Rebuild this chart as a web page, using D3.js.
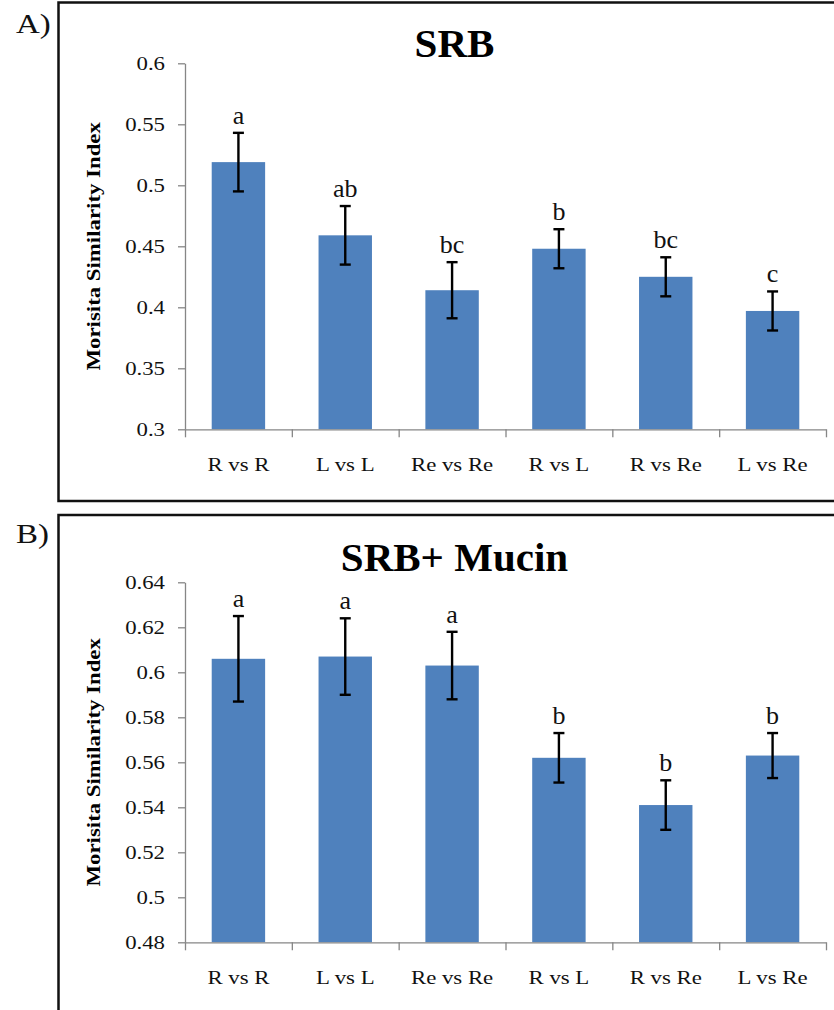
<!DOCTYPE html>
<html>
<head>
<meta charset="utf-8">
<script src="https://cdn.jsdelivr.net/npm/d3@7/dist/d3.min.js"></script>
<style>
  html, body { margin: 0; padding: 0; background: #fff; }
  svg { display: block; }
  text { font-family: "Liberation Serif", "Times New Roman", serif; }
</style>
</head>
<body>
<svg id="chart" width="834" height="1010"></svg>
<script>
// ---- data ----
const categories = ["R vs R", "L vs L", "Re vs Re", "R vs L", "R vs Re", "L vs Re"];

const srbMeans   = [0.519, 0.459, 0.414, 0.448, 0.425, 0.397];
const srbErrors  = [0.024, 0.024, 0.023, 0.016, 0.016, 0.016];
const srbLetters = ["a", "ab", "bc", "b", "bc", "c"];
const srbTicks   = [0.3, 0.35, 0.4, 0.45, 0.5, 0.55, 0.6];
const srbTickLabels = ["0.3", "0.35", "0.4", "0.45", "0.5", "0.55", "0.6"];

const mucinMeans   = [0.606, 0.607, 0.603, 0.562, 0.541, 0.563];
const mucinErrors  = [0.019, 0.017, 0.015, 0.011, 0.011, 0.010];
const mucinLetters = ["a", "a", "a", "b", "b", "b"];
const mucinTicks   = [0.48, 0.5, 0.52, 0.54, 0.56, 0.58, 0.6, 0.62, 0.64];
const mucinTickLabels = ["0.48", "0.5", "0.52", "0.54", "0.56", "0.58", "0.6", "0.62", "0.64"];

const yLabel = "Morisita Similarity Index";

// ---- drawing ----
const svg = d3.select("#chart");
const AXIS = "#868686";
const BAR = "#4F81BD";
const SX = 1.2; // horizontal stretch of chart text

const plotLeft = 185, plotRight = 826;

function panel(opts) {
  const g = svg.append("g");
  // frame
  g.append("rect")
    .attr("x", 58.5).attr("y", opts.boxTop)
    .attr("width", 840 - 58.5).attr("height", opts.boxBottom - opts.boxTop)
    .attr("fill", "none").attr("stroke", "#111").attr("stroke-width", 2.5);

  // panel letter
  g.append("text")
    .attr("transform", `translate(16,${opts.letterY}) scale(1.22,1)`)
    .attr("font-size", 27).attr("fill", "#111")
    .text(opts.panelLabel);

  // title
  g.append("text")
    .attr("x", 454.5).attr("y", opts.titleY)
    .attr("text-anchor", "middle")
    .attr("font-size", 41).attr("font-weight", "bold").attr("fill", "#000")
    .text(opts.title);

  const y = d3.scaleLinear().domain(opts.domain).range([opts.yBottom, opts.yTop]);
  const x = d3.scaleBand().domain(categories).range([plotLeft, plotRight])
    .paddingInner(0.5).paddingOuter(0.25);
  const xb = d3.scaleLinear().domain([0, categories.length]).range([plotLeft, plotRight]);

  // bars
  g.append("g").selectAll("rect")
    .data(opts.means)
    .join("rect")
    .attr("x", (d, i) => x(categories[i]))
    .attr("width", x.bandwidth())
    .attr("y", d => y(d))
    .attr("height", d => y(opts.domain[0]) - y(d))
    .attr("fill", BAR);

  // y axis
  const ya = g.append("g").attr("transform", `translate(${plotLeft},0)`)
    .call(d3.axisLeft(y).tickValues(opts.ticks)
      .tickFormat((d, i) => opts.tickLabels[i]).tickSize(7).tickSizeOuter(0));
  ya.select(".domain").attr("stroke", AXIS).attr("stroke-width", 1.3);
  ya.selectAll(".tick line").attr("stroke", AXIS).attr("stroke-width", 1.3);
  ya.selectAll(".tick text")
    .attr("font-family", "Liberation Serif, serif")
    .attr("font-size", 19).attr("fill", "#111")
    .attr("x", -20 / SX).attr("dy", "0.34em")
    .attr("transform", `scale(${SX},1)`);

  // x axis (ticks on category boundaries)
  const xa = g.append("g").attr("transform", `translate(0,${opts.yBottom})`)
    .call(d3.axisBottom(xb).tickValues(d3.range(categories.length + 1))
      .tickFormat("").tickSize(8).tickSizeOuter(0));
  xa.select(".domain").attr("stroke", AXIS).attr("stroke-width", 1.3);
  xa.selectAll(".tick line").attr("stroke", AXIS).attr("stroke-width", 1.3);

  // category labels
  g.append("g").selectAll("text")
    .data(categories)
    .join("text")
    .attr("transform", d => `translate(${x(d) + x.bandwidth() / 2},${opts.yBottom + 42}) scale(${SX},1)`)
    .attr("text-anchor", "middle")
    .attr("font-size", 19).attr("fill", "#111")
    .text(d => d);

  // error bars
  const eb = g.append("g").attr("stroke", "#000").attr("stroke-width", 2.4);
  opts.means.forEach((m, i) => {
    const cx = x(categories[i]) + x.bandwidth() / 2;
    const top = y(m + opts.errors[i]);
    const bot = y(m - opts.errors[i]);
    eb.append("line").attr("x1", cx).attr("x2", cx).attr("y1", top).attr("y2", bot);
    eb.append("line").attr("x1", cx - 5.5).attr("x2", cx + 5.5).attr("y1", top).attr("y2", top);
    eb.append("line").attr("x1", cx - 5.5).attr("x2", cx + 5.5).attr("y1", bot).attr("y2", bot);
  });

  // significance letters
  g.append("g").selectAll("text")
    .data(opts.letters)
    .join("text")
    .attr("x", (d, i) => x(categories[i]) + x.bandwidth() / 2)
    .attr("y", (d, i) => y(opts.means[i] + opts.errors[i]) - 9)
    .attr("text-anchor", "middle")
    .attr("font-size", 26).attr("fill", "#111")
    .text(d => d);

  // y label
  g.append("text")
    .attr("transform", `translate(100,${(opts.yTop + opts.yBottom) / 2}) rotate(-90) scale(1.17,1)`)
    .attr("text-anchor", "middle")
    .attr("font-size", 19.5).attr("font-weight", "bold").attr("fill", "#000")
    .text(yLabel);
}

panel({
  boxTop: 2.5, boxBottom: 501, panelLabel: "A)", letterY: 33,
  title: "SRB", titleY: 57,
  domain: [0.3, 0.6], yBottom: 429.3, yTop: 63.3,
  ticks: srbTicks, tickLabels: srbTickLabels,
  means: srbMeans, errors: srbErrors, letters: srbLetters
});

panel({
  boxTop: 515, boxBottom: 1020, panelLabel: "B)", letterY: 543,
  title: "SRB+ Mucin", titleY: 571,
  domain: [0.48, 0.64], yBottom: 942.3, yTop: 582.3,
  ticks: mucinTicks, tickLabels: mucinTickLabels,
  means: mucinMeans, errors: mucinErrors, letters: mucinLetters
});
</script>
</body>
</html>
